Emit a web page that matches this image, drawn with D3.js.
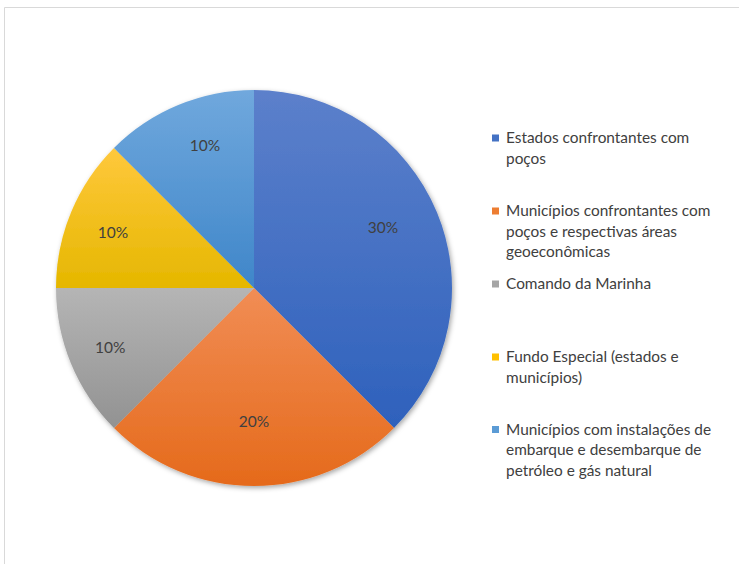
<!DOCTYPE html>
<html>
<head>
<meta charset="utf-8">
<script src="https://cdn.jsdelivr.net/npm/d3@7"></script>
<style>
  html, body { margin: 0; padding: 0; background: #fff; }
  svg { display: block; }
</style>
</head>
<body>
<svg id="chart" width="739" height="564"></svg>
<script>
// Distribution shares (values shown on the slices)
const categories = [
  "Estados confrontantes com poços",
  "Municípios confrontantes com poços e respectivas áreas geoeconômicas",
  "Comando da Marinha",
  "Fundo Especial (estados e municípios)",
  "Municípios com instalações de embarque e desembarque de petróleo e gás natural"
];
const values = [30, 20, 10, 10, 10];
const valueLabels = ["30%", "20%", "10%", "10%", "10%"];

// Legend text broken into lines as laid out
const legendLines = [
  ["Estados confrontantes com", "poços"],
  ["Municípios confrontantes com", "poços e respectivas áreas", "geoeconômicas"],
  ["Comando da Marinha"],
  ["Fundo Especial (estados e", "municípios)"],
  ["Municípios com instalações de", "embarque e desembarque de", "petróleo e gás natural"]
];

// Slice fills: [top, bottom] of a vertical gradient, plus flat legend swatch
const fillTop    = ["#5C80CB", "#F18D55", "#B5B5B5", "#FFC83C", "#70A8DD"];
const fillBottom = ["#2E61BC", "#E56A1B", "#929292", "#E5B700", "#3F86C9"];
const swatch     = ["#4472C4", "#ED7D31", "#A5A5A5", "#FFC000", "#5B9BD5"];

// Layout
const cx = 254, cy = 288, R = 198;
const labelRadius = [0.72, 0.677, 0.786, 0.764, 0.761];
const labelAngleShift = [-2.8, 0, 0, -1.2, 3.5]; // degrees
const legendX = 492, legendFirstLine = [138, 211, 284, 357, 429.5], lineGap = 20.4;

const svg = d3.select("#chart");
const defs = svg.append("defs");

// Chart frame
svg.append("path")
  .attr("d", "M4.5,564 L4.5,7.5 L739,7.5")
  .attr("fill", "none").attr("stroke", "#d9d9d9").attr("stroke-width", 1);

const shadow = defs.append("filter").attr("id", "pieShadow")
  .attr("x", "-10%").attr("y", "-10%").attr("width", "120%").attr("height", "120%");
shadow.append("feDropShadow")
  .attr("dx", 1.5).attr("dy", 2).attr("stdDeviation", 2.5)
  .attr("flood-color", "#000").attr("flood-opacity", 0.35);

values.forEach((v, i) => {
  const g = defs.append("linearGradient").attr("id", "grad" + i)
    .attr("x1", 0).attr("y1", 0).attr("x2", 0).attr("y2", 1);
  g.append("stop").attr("offset", "0%").attr("stop-color", fillTop[i]);
  g.append("stop").attr("offset", "100%").attr("stop-color", fillBottom[i]);
});

const pie = d3.pie().sort(null).value(d => d);
const arcs = pie(values);
const arc = d3.arc().innerRadius(0).outerRadius(R);

const pieG = svg.append("g").attr("transform", `translate(${cx},${cy})`);
pieG.append("g").attr("filter", "url(#pieShadow)")
  .selectAll("path").data(arcs).join("path")
  .attr("d", arc)
  .attr("fill", (d, i) => `url(#grad${i})`);

// Value labels
pieG.selectAll("text.val").data(arcs).join("text")
  .attr("class", "val")
  .attr("transform", (d, i) => {
    const a = (d.startAngle + d.endAngle) / 2 + labelAngleShift[i] * Math.PI / 180;
    const r = R * labelRadius[i];
    return `translate(${r * Math.sin(a)},${-r * Math.cos(a)})`;
  })
  .attr("text-anchor", "middle")
  .attr("dy", "0.35em")
  .attr("font-family", "Lato, 'Open Sans', sans-serif")
  .attr("font-size", 15.5)
  .attr("fill", "#404040")
  .text((d, i) => valueLabels[i]);

// Legend
const legend = svg.append("g");
categories.forEach((c, i) => {
  const y0 = legendFirstLine[i];
  legend.append("rect")
    .attr("x", legendX).attr("y", y0 - 3.5)
    .attr("width", 7).attr("height", 7)
    .attr("fill", swatch[i]);
  const t = legend.append("text")
    .attr("font-family", "Lato, 'Open Sans', sans-serif")
    .attr("font-size", 15.4)
    .attr("fill", "#404040");
  legendLines[i].forEach((line, k) => {
    t.append("tspan")
      .attr("x", 506)
      .attr("y", y0 + k * lineGap)
      .attr("dy", "0.35em")
      .text(line);
  });
});
</script>
</body>
</html>
